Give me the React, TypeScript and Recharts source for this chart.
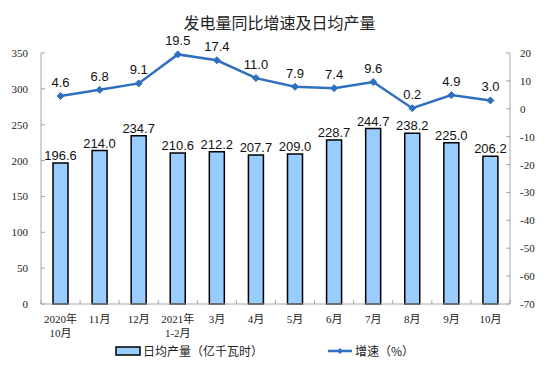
import React from 'react';
import { ComposedChart, Bar, Line, XAxis, YAxis, LabelList, Legend } from 'recharts';

const categories = ['2020年\n10月', '11月', '12月', '2021年\n1-2月', '3月', '4月', '5月', '6月', '7月', '8月', '9月', '10月'];
const dailyOutput = [196.6, 214.0, 234.7, 210.6, 212.2, 207.7, 209.0, 228.7, 244.7, 238.2, 225.0, 206.2];
const growth = [4.6, 6.8, 9.1, 19.5, 17.4, 11.0, 7.9, 7.4, 9.6, 0.2, 4.9, 3.0];
const leftTicks = [0, 50, 100, 150, 200, 250, 300, 350];
const rightTicks = [-70, -60, -50, -40, -30, -20, -10, 0, 10, 20];

const data = categories.map((c, i) => ({ name: c, output: dailyOutput[i], growth: growth[i] }));

const AXIS_COLOR = '#a6a6a6';
const LINE_COLOR = '#2f6fbf';
const BAR_FILL = '#99ccff';
const TICK_FONT = '"Liberation Serif", "Noto Sans CJK SC", serif';
const LABEL_FONT = '"Liberation Sans", Arial, sans-serif';
const BAND = (510 - 41) / 12;

const LeftTick = (props: any) => {
  const { x, y, payload } = props;
  return (
    <g>
      <line x1={x} y1={y} x2={x + 4} y2={y} stroke={AXIS_COLOR} />
      <text x={x - 13} y={y} dy={4} textAnchor="end" fontSize={11} fontFamily={TICK_FONT} fill="#222">{payload.value}</text>
    </g>
  );
};

const RightTick = (props: any) => {
  const { x, y, payload } = props;
  return (
    <g>
      <line x1={x - 4} y1={y} x2={x} y2={y} stroke={AXIS_COLOR} />
      <text x={x + 10} y={y} dy={4} textAnchor="start" fontSize={11} fontFamily={TICK_FONT} fill="#222">{payload.value}</text>
    </g>
  );
};

const XTick = (props: any) => {
  const { x, y, payload, index } = props;
  const lines = String(payload.value).split('\n');
  return (
    <g>
      {index === 0 && <line x1={x - BAND / 2} y1={y} x2={x - BAND / 2} y2={y - 4} stroke={AXIS_COLOR} />}
      <line x1={x + BAND / 2} y1={y} x2={x + BAND / 2} y2={y - 4} stroke={AXIS_COLOR} />
      {lines.map((l, i) => (
        <text key={i} x={x} y={y + 19 + i * 14} textAnchor="middle" fontSize={11} fontFamily={TICK_FONT} fill="#222">{l}</text>
      ))}
    </g>
  );
};

const Diamond = (props: any) => {
  const { cx, cy } = props;
  if (cx == null || cy == null) return null;
  const r = 3.5;
  return <path d={`M${cx},${cy - r}L${cx + r},${cy}L${cx},${cy + r}L${cx - r},${cy}Z`} fill={LINE_COLOR} stroke={LINE_COLOR} />;
};

const LegendContent = () => (
  <div style={{ position: 'relative', width: 559, height: 16, fontFamily: '"Noto Sans CJK SC", sans-serif', fontSize: 12, color: '#222' }}>
    <svg width={559} height={16} style={{ position: 'absolute', left: 0, top: 0 }}>
      <rect x={116} y={4} width={24} height={8} fill={BAR_FILL} stroke="#000" strokeWidth={1.5} />
      <line x1={328} y1={8} x2={352} y2={8} stroke={LINE_COLOR} strokeWidth={2.5} />
      <path d="M340,5L343,8L340,11L337,8Z" fill={LINE_COLOR} />
    </svg>
    <span style={{ position: 'absolute', left: 143, top: -1, whiteSpace: 'nowrap' }}>日均产量（亿千瓦时）</span>
    <span style={{ position: 'absolute', left: 355, top: -1, whiteSpace: 'nowrap' }}>增速（%）</span>
  </div>
);

export default function App() {
  return (
    <div style={{ position: 'absolute', left: 0, top: 0, width: 559, height: 385, background: '#fff' }}>
      <div style={{ position: 'absolute', left: 0, top: 10, width: 559, textAlign: 'center', fontFamily: '"Noto Sans CJK SC", sans-serif', fontSize: 16, color: '#222', zIndex: 2 }}>
        发电量同比增速及日均产量
      </div>
      <ComposedChart width={559} height={385} data={data} margin={{ top: 53, right: 0, bottom: 26, left: 0 }} barCategoryGap={0}>
        <XAxis dataKey="name" interval={0} tickSize={0} tickMargin={0} height={39} tick={<XTick />} stroke={AXIS_COLOR} />
        <YAxis yAxisId="left" orientation="left" width={41} domain={[0, 350]} ticks={leftTicks} tickSize={0} tickMargin={0} tick={<LeftTick />} stroke={AXIS_COLOR} interval={0} />
        <YAxis yAxisId="right" orientation="right" width={49} domain={[-70, 20]} ticks={rightTicks} tickSize={0} tickMargin={0} tick={<RightTick />} stroke={AXIS_COLOR} interval={0} />
        <Legend verticalAlign="bottom" height={16} content={<LegendContent />} />
        <Bar yAxisId="left" dataKey="output" fill={BAR_FILL} stroke="#000" strokeWidth={1.5} barSize={15} isAnimationActive={false}>
          <LabelList dataKey="output" position="top" offset={3} formatter={(v: any) => Number(v).toFixed(1)} style={{ fontSize: 13, fontFamily: LABEL_FONT, fill: '#111' }} />
        </Bar>
        <Line yAxisId="right" dataKey="growth" stroke={LINE_COLOR} strokeWidth={2.5} dot={<Diamond />} activeDot={false} isAnimationActive={false}>
          <LabelList dataKey="growth" position="top" offset={9} formatter={(v: any) => Number(v).toFixed(1)} style={{ fontSize: 13, fontFamily: LABEL_FONT, fill: '#111' }} />
        </Line>
      </ComposedChart>
    </div>
  );
}
